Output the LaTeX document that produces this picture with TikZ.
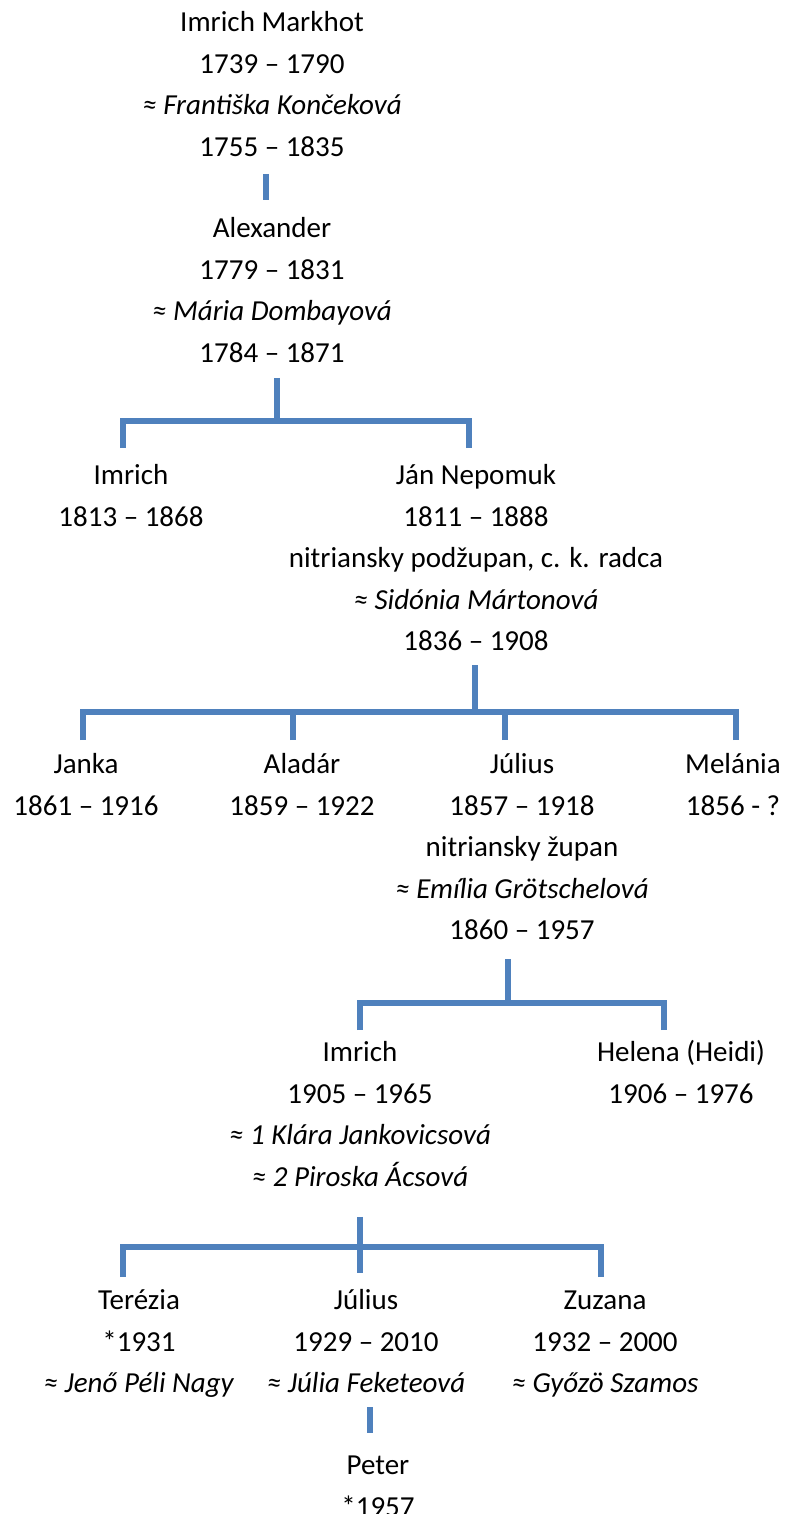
\documentclass[tikz,border=0pt]{standalone}
\usepackage{fontspec}
\setmainfont{Carlito}
\definecolor{linkblue}{HTML}{4F81BD}
\tikzset{
  person/.style={align=center, anchor=north, inner sep=0pt, font=\fontsize{29}{41.5}\selectfont},
  link/.style={draw=linkblue, line width=5.5pt}
}
\begin{document}
\begin{tikzpicture}[x=1pt, y=-1pt]
    \useasboundingbox (0,0) rectangle (787,1514);
    % generation 1 and 2
    \node[person] (markhot) at (272,2.5) {\strut Imrich Markhot\\1739 – 1790\\\textit{≈ Františka Končeková}\\1755 – 1835\strut};
    \node[person] (alex) at (272,208.5) {\strut Alexander\\1779 – 1831\\\textit{≈ Mária Dombayová}\\1784 – 1871\strut};
    \draw[link] ([xshift=-6,yshift=-5]markhot.south) -- ([xshift=-6,yshift=8.5]alex.north);
    % children of Alexander
    \node[person] (imrichA) at (131,455.5) {\strut Imrich\\1813 – 1868\strut};
    \node[person] (jan) at (476,455.5) {\strut Ján Nepomuk\\1811 – 1888\\nitriansky podžupan, c. k. radca\\\textit{≈ Sidónia Mártonová}\\1836 – 1908\strut};
    \coordinate (bar1) at (277,421);
    \draw[link] ([xshift=5,yshift=-3]alex.south) -- (bar1);
    \draw[link] ([xshift=-8,yshift=7.5]imrichA.north) |- (bar1);
    \draw[link] ([xshift=-7,yshift=7.5]jan.north) |- (bar1);
    % children of Ján Nepomuk
    \node[person] (janka) at (86,744.5) {\strut Janka\\1861 – 1916\strut};
    \node[person] (aladar) at (302,744.5) {\strut Aladár\\1859 – 1922\strut};
    \node[person] (julius) at (522,744.5) {\strut Július\\1857 – 1918\\nitriansky župan\\\textit{≈ Emília Grötschelová}\\1860 – 1957\strut};
    \node[person] (melania) at (733,744.5) {\strut Melánia\\1856 - ?\strut};
    \coordinate (bar2) at (475,712);
    \draw[link] ([xshift=-1,yshift=-2]jan.south) -- (bar2);
    \draw[link] ([xshift=-3,yshift=4.5]janka.north) |- (bar2);
    \draw[link] ([xshift=-9,yshift=4.5]aladar.north) |- (bar2);
    \draw[link] ([xshift=-17,yshift=4.5]julius.north) |- (bar2);
    \draw[link] ([xshift=3,yshift=4.5]melania.north) |- (bar2);
    % children of Július
    \node[person] (imrichB) at (360,1032.5) {\strut Imrich\\1905 – 1965\\\textit{≈ 1 Klára Jankovicsová}\\\textit{≈ 2 Piroska Ácsová}\strut};
    \node[person] (helena) at (681,1032.5) {\strut Helena (Heidi)\\1906 – 1976\strut};
    \coordinate (bar3) at (508,1003);
    \draw[link] ([xshift=-14,yshift=-7]julius.south) -- (bar3);
    \draw[link] ([yshift=2.5]imrichB.north) |- (bar3);
    \draw[link] ([xshift=-17,yshift=2.5]helena.north) |- (bar3);
    % children of Imrich
    \node[person] (terezia) at (139,1280.5) {\strut Terézia\\*1931\\\textit{≈ Jenő Péli Nagy}\strut};
    \node[person] (juliusB) at (366,1280.5) {\strut Július\\1929 – 2010\\\textit{≈ Júlia Feketeová}\strut};
    \node[person] (zuzana) at (605,1280.5) {\strut Zuzana\\1932 – 2000\\\textit{≈ Győzö Szamos}\strut};
    \coordinate (bar4) at (360,1247);
    \draw[link] ([yshift=-18]imrichB.south) -- ([xshift=-6,yshift=7.5]juliusB.north);
    \draw[link] ([xshift=-16,yshift=3.5]terezia.north) |- (bar4);
    \draw[link] ([xshift=-4,yshift=3.5]zuzana.north) |- (bar4);
    % grandson
    \node[person] (peter) at (378,1445.5) {\strut Peter\\*1957\strut};
    \draw[link] ([xshift=4,yshift=-2]juliusB.south) -- ([xshift=-8,yshift=12.5]peter.north);
\end{tikzpicture}
\end{document}
